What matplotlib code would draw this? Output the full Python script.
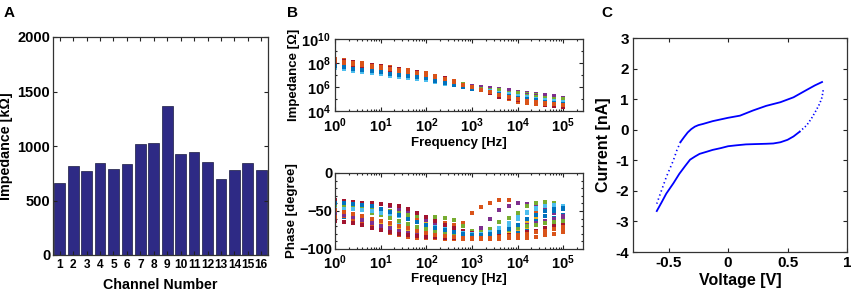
import numpy as np
import matplotlib
matplotlib.use("Agg")
import matplotlib.pyplot as plt
from matplotlib.ticker import FuncFormatter, LogLocator, NullFormatter, MultipleLocator

plt.rcParams['font.family'] = ['Liberation Sans', 'DejaVu Sans']
plt.rcParams['font.weight'] = 'bold'
plt.rcParams['axes.labelweight'] = 'bold'
plt.rcParams['mathtext.fontset'] = 'custom'
plt.rcParams['mathtext.rm'] = 'Liberation Sans:bold'
plt.rcParams['mathtext.bf'] = 'Liberation Sans:bold'
plt.rcParams['mathtext.it'] = 'Liberation Sans:bold'

# ---------------- Panel A data ----------------
channels = list(range(1, 17))
impedance_kohm = [665, 812, 771, 842, 790, 833, 1017, 1032, 1369, 931, 946, 855, 695, 778, 848, 784]

# ---------------- Panel B data ----------------
freq_exp = [0.0, 0.2, 0.4, 0.6, 0.8, 1.0, 1.2, 1.4, 1.6, 1.8, 2.0, 2.2, 2.4,
            2.6, 2.8, 3.0, 3.2, 3.4, 3.6, 3.8, 4.0, 4.2, 4.4, 4.6, 4.8, 5.0]

# log10(|Z| / Ohm) per channel
logz_ch1 = [7.80, 7.69, 7.59, 7.48, 7.37, 7.26, 7.15, 7.05, 6.96, 6.85, 6.75, 6.57, 6.40, 6.24, 6.08, 5.91, 5.76, 5.63, 5.48, 5.33, 5.18, 5.08, 4.99, 4.89, 4.80, 4.70]
logz_ch2 = [8.32, 8.21, 8.09, 7.98, 7.86, 7.75, 7.63, 7.50, 7.39, 7.26, 7.14, 6.95, 6.75, 6.46, 6.18, 5.96, 5.76, 5.49, 5.16, 4.97, 4.78, 4.69, 4.60, 4.51, 4.42, 4.33]
logz_ch3 = [8.00, 7.89, 7.78, 7.67, 7.56, 7.45, 7.34, 7.22, 7.12, 7.01, 6.90, 6.72, 6.54, 6.36, 6.19, 6.01, 5.87, 5.75, 5.61, 5.48, 5.34, 5.24, 5.15, 5.04, 4.95, 4.85]
logz_ch4 = [8.05, 7.94, 7.83, 7.72, 7.61, 7.50, 7.38, 7.27, 7.16, 7.05, 6.94, 6.75, 6.57, 6.42, 6.26, 6.09, 5.99, 5.91, 5.84, 5.73, 5.62, 5.51, 5.42, 5.31, 5.22, 5.11]
logz_ch5 = [7.97, 7.86, 7.75, 7.64, 7.53, 7.42, 7.31, 7.20, 7.10, 6.98, 6.87, 6.69, 6.51, 6.36, 6.21, 6.04, 5.92, 5.83, 5.75, 5.62, 5.50, 5.40, 5.31, 5.20, 5.11, 5.00]
logz_ch6 = [7.58, 7.47, 7.37, 7.26, 7.16, 7.05, 6.95, 6.86, 6.77, 6.68, 6.58, 6.41, 6.25, 6.14, 6.03, 5.88, 5.74, 5.65, 5.57, 5.43, 5.28, 5.18, 5.09, 4.99, 4.90, 4.80]
logz_ch7 = [8.28, 8.17, 8.05, 7.94, 7.83, 7.72, 7.60, 7.47, 7.36, 7.23, 7.11, 6.92, 6.73, 6.45, 6.18, 5.96, 5.76, 5.50, 5.19, 5.00, 4.81, 4.72, 4.63, 4.54, 4.45, 4.36]
logz_ch8 = [7.70, 7.59, 7.49, 7.38, 7.27, 7.16, 7.06, 6.96, 6.87, 6.77, 6.67, 6.50, 6.33, 6.18, 6.03, 5.87, 5.72, 5.58, 5.44, 5.28, 5.12, 5.03, 4.94, 4.84, 4.75, 4.65]
logz_ch9 = [8.22, 8.11, 7.99, 7.88, 7.77, 7.66, 7.54, 7.41, 7.31, 7.18, 7.06, 6.88, 6.68, 6.42, 6.16, 5.95, 5.76, 5.51, 5.22, 5.04, 4.86, 4.76, 4.67, 4.58, 4.49, 4.40]
logz_ch10 = [7.85, 7.74, 7.63, 7.52, 7.42, 7.31, 7.20, 7.09, 7.00, 6.89, 6.78, 6.61, 6.43, 6.25, 6.07, 5.89, 5.72, 5.54, 5.35, 5.18, 5.02, 4.92, 4.83, 4.73, 4.64, 4.55]
logz_ch11 = [7.93, 7.82, 7.71, 7.60, 7.49, 7.38, 7.27, 7.16, 7.06, 6.96, 6.85, 6.67, 6.49, 6.34, 6.19, 6.02, 5.90, 5.80, 5.70, 5.58, 5.45, 5.35, 5.26, 5.15, 5.06, 4.95]
logz_ch12 = [7.90, 7.79, 7.68, 7.57, 7.46, 7.35, 7.24, 7.14, 7.04, 6.93, 6.82, 6.64, 6.47, 6.32, 6.16, 5.99, 5.87, 5.76, 5.66, 5.53, 5.39, 5.29, 5.20, 5.09, 5.00, 4.90]
logz_ch13 = [7.63, 7.52, 7.42, 7.31, 7.21, 7.10, 7.00, 6.91, 6.81, 6.72, 6.62, 6.45, 6.29, 6.16, 6.03, 5.88, 5.74, 5.63, 5.53, 5.38, 5.23, 5.13, 5.04, 4.94, 4.85, 4.75]
logz_ch14 = [8.10, 7.99, 7.87, 7.76, 7.65, 7.54, 7.43, 7.31, 7.20, 7.09, 6.97, 6.79, 6.60, 6.36, 6.13, 5.93, 5.75, 5.52, 5.26, 5.08, 4.91, 4.81, 4.72, 4.63, 4.54, 4.45]
logz_ch15 = [7.75, 7.64, 7.54, 7.43, 7.32, 7.21, 7.11, 7.01, 6.91, 6.81, 6.71, 6.53, 6.37, 6.20, 6.04, 5.87, 5.71, 5.56, 5.40, 5.24, 5.07, 4.98, 4.89, 4.79, 4.70, 4.60]
logz_ch16 = [8.15, 8.04, 7.92, 7.81, 7.70, 7.59, 7.47, 7.35, 7.25, 7.13, 7.01, 6.83, 6.64, 6.40, 6.16, 5.96, 5.78, 5.56, 5.31, 5.14, 4.97, 4.87, 4.78, 4.69, 4.60, 4.50]

# phase (degree) per channel
ph_ch1 = [-48, -52, -56, -60, -64, -68, -72, -75, -78, -80, -81, -82, -83, -83, -83, -83, -82, -81, -80, -78, -76, -73, -69, -64, -59, -55]
ph_ch2 = [-42, -44, -46, -47, -48, -49, -51, -54, -57, -60, -62, -64, -66, -68, -66, -53, -45, -39, -36, -35, -39, -44, -50, -56, -62, -67]
ph_ch3 = [-40, -41, -42, -43, -45, -48, -52, -56, -60, -64, -67, -70, -73, -75, -77, -78, -78, -77, -75, -72, -68, -64, -60, -56, -52, -48]
ph_ch4 = [-37, -38, -38, -39, -40, -41, -43, -47, -52, -57, -62, -66, -70, -74, -77, -79, -72, -60, -49, -43, -40, -41, -44, -48, -52, -56]
ph_ch5 = [-45, -44, -44, -45, -47, -48, -50, -53, -55, -57, -58, -58, -59, -62, -70, -76, -78, -74, -64, -59, -52, -44, -40, -38, -39, -44]
ph_ch6 = [-55, -57, -59, -61, -63, -65, -67, -69, -71, -73, -75, -77, -79, -80, -81, -81, -80, -78, -74, -68, -60, -53, -47, -43, -42, -45]
ph_ch7 = [-36, -37, -38, -39, -40, -41, -42, -44, -48, -53, -58, -63, -68, -72, -76, -79, -81, -82, -82, -81, -80, -78, -76, -73, -70, -66]
ph_ch8 = [-60, -58, -58, -61, -66, -71, -75, -79, -82, -84, -85, -85, -85, -85, -85, -85, -84, -83, -82, -80, -76, -70, -63, -56, -50, -47]
ph_ch9 = [-58, -56, -60, -66, -70, -75, -79, -82, -84, -85, -86, -86, -87, -87, -87, -87, -87, -87, -87, -86, -86, -85, -84, -82, -80, -78]
ph_ch10 = [-50, -53, -56, -59, -62, -65, -68, -71, -74, -77, -79, -81, -82, -83, -83, -83, -82, -81, -79, -77, -74, -71, -68, -65, -62, -60]
ph_ch11 = [-52, -55, -58, -62, -66, -70, -73, -76, -79, -81, -83, -84, -84, -84, -84, -83, -82, -80, -78, -75, -72, -69, -66, -63, -61, -60]
ph_ch12 = [-42, -44, -46, -49, -52, -55, -59, -63, -67, -71, -74, -77, -79, -80, -81, -81, -80, -79, -77, -75, -72, -70, -68, -66, -64, -63]
ph_ch13 = [-47, -47, -48, -49, -50, -52, -54, -57, -61, -65, -68, -71, -74, -77, -79, -80, -80, -78, -73, -66, -58, -51, -46, -43, -42, -43]
ph_ch14 = [-63, -64, -66, -69, -72, -75, -78, -80, -82, -83, -84, -84, -85, -85, -85, -85, -85, -84, -83, -82, -81, -79, -77, -75, -73, -72]
ph_ch15 = [-40, -40, -41, -42, -44, -47, -51, -55, -60, -64, -68, -72, -75, -78, -80, -81, -81, -80, -78, -74, -68, -61, -55, -50, -47, -46]
ph_ch16 = [-49, -51, -54, -57, -60, -63, -66, -70, -73, -76, -79, -81, -83, -84, -85, -85, -85, -85, -84, -83, -82, -80, -78, -76, -74, -72]

logz_all = [logz_ch1, logz_ch2, logz_ch3, logz_ch4, logz_ch5, logz_ch6, logz_ch7, logz_ch8,
            logz_ch9, logz_ch10, logz_ch11, logz_ch12, logz_ch13, logz_ch14, logz_ch15, logz_ch16]
ph_all = [ph_ch1, ph_ch2, ph_ch3, ph_ch4, ph_ch5, ph_ch6, ph_ch7, ph_ch8,
          ph_ch9, ph_ch10, ph_ch11, ph_ch12, ph_ch13, ph_ch14, ph_ch15, ph_ch16]

# ---------------- Panel C data ----------------
lower_dense_v = [-0.60, -0.56, -0.52, -0.46, -0.41, -0.36, -0.32, -0.28, -0.24, -0.18, -0.13, -0.06,
                 0.00, 0.07, 0.15, 0.23, 0.32, 0.38, 0.44, 0.50, 0.55, 0.60]
lower_dense_i = [-2.66, -2.38, -2.09, -1.75, -1.44, -1.18, -0.98, -0.88, -0.79, -0.72, -0.66, -0.60,
                 -0.54, -0.51, -0.48, -0.47, -0.46, -0.45, -0.41, -0.33, -0.22, -0.07]
lower_steep_v = [0.60, 0.66, 0.70, 0.74, 0.77, 0.79, 0.80]
lower_steep_i = [-0.07, 0.14, 0.36, 0.63, 0.85, 1.06, 1.30]
upper_dense_v = [0.79, 0.73, 0.66, 0.55, 0.44, 0.32, 0.21, 0.10, 0.00, -0.13, -0.21, -0.25, -0.28,
                 -0.31, -0.34, -0.37, -0.40]
upper_dense_i = [1.56, 1.45, 1.30, 1.06, 0.90, 0.78, 0.63, 0.46, 0.39, 0.28, 0.19, 0.15, 0.10,
                 0.02, -0.09, -0.24, -0.40]
upper_steep_v = [-0.40, -0.43, -0.46, -0.52, -0.58, -0.60]
upper_steep_i = [-0.40, -0.66, -1.00, -1.55, -2.20, -2.42]

matlab_colors = ['#0072BD', '#D95319', '#EDB120', '#7E2F8E', '#77AC30', '#4DBEEE', '#A2142F']

W, H = 851, 297
fig = plt.figure(figsize=(W / 100, H / 100), dpi=100)

def px_axes(left, top, right, bottom):
    return fig.add_axes([left / W, 1 - bottom / H, (right - left) / W, (bottom - top) / H])

def style(ax, fs):
    ax.tick_params(which='both', direction='in', top=True, right=True, labelsize=fs, pad=2,
                   width=0.8, colors='#222222', labelcolor='black')
    ax.tick_params(which='major', length=3)
    ax.tick_params(which='minor', length=1.6)
    for s in ax.spines.values():
        s.set_linewidth(0.9)
        s.set_color('#333333')
    for lab in ax.get_xticklabels() + ax.get_yticklabels():
        lab.set_fontweight('bold')

# ---- A ----
axA = px_axes(53, 37, 268, 255)
axA.bar(channels, impedance_kohm, width=0.8, color='#2e2a85', edgecolor='#1a1a40', linewidth=0.5)
axA.set_xlim(0.5, 16.5)
axA.set_ylim(0, 2000)
axA.set_xticks(channels)
axA.set_yticks([0, 500, 1000, 1500, 2000])
axA.set_xlabel('Channel Number', fontsize=10.3, labelpad=5)
axA.set_ylabel('Impedance [k\u03A9]', fontsize=10.3, labelpad=3)
style(axA, 10.5)
axA.tick_params(axis='x', pad=3, labelsize=8.6)

def pow_fmt(x, pos):
    e = int(round(np.log10(x)))
    return r'$\mathbf{10^{%d}}$' % e

freqs = [10 ** e for e in freq_exp]
MS = 2.5

# ---- B top ----
axB1 = px_axes(335, 39, 583, 111)
for k in range(16):
    axB1.plot(freqs, [10 ** z for z in logz_all[k]], linestyle='none', marker='s', markersize=MS,
              markeredgewidth=0, color=matlab_colors[k % 7])
axB1.set_xscale('log')
axB1.set_yscale('log')
axB1.set_xlim(1, 10 ** 5.43)
axB1.set_ylim(1e4, 1e10)
axB1.set_xticks([1, 10, 100, 1e3, 1e4, 1e5])
axB1.set_yticks([1e4, 1e6, 1e8, 1e10])
axB1.xaxis.set_major_formatter(FuncFormatter(pow_fmt))
axB1.yaxis.set_major_formatter(FuncFormatter(pow_fmt))
axB1.xaxis.set_minor_locator(LogLocator(base=10, subs=np.arange(2, 10), numticks=20))
axB1.yaxis.set_minor_locator(LogLocator(base=10, subs=[1.0], numticks=20))
axB1.xaxis.set_minor_formatter(NullFormatter())
axB1.yaxis.set_minor_formatter(NullFormatter())
axB1.set_xlabel('Frequency [Hz]', fontsize=9.5, labelpad=1)
axB1.set_ylabel('Impedance [\u03A9]', fontsize=9.5, labelpad=1)
style(axB1, 10.5)
axB1.tick_params(axis='x', pad=4)
axB1.tick_params(axis='y', pad=3)

# ---- B bottom ----
axB2 = px_axes(335, 173, 583, 249)
for k in range(16):
    axB2.plot(freqs, ph_all[k], linestyle='none', marker='s', markersize=MS,
              markeredgewidth=0, color=matlab_colors[k % 7])
axB2.set_xscale('log')
axB2.set_xlim(1, 10 ** 5.43)
axB2.set_ylim(-100, 0)
axB2.set_xticks([1, 10, 100, 1e3, 1e4, 1e5])
axB2.set_yticks([-100, -50, 0])
axB2.xaxis.set_major_formatter(FuncFormatter(pow_fmt))
axB2.xaxis.set_minor_locator(LogLocator(base=10, subs=np.arange(2, 10), numticks=20))
axB2.xaxis.set_minor_formatter(NullFormatter())
axB2.yaxis.set_minor_locator(MultipleLocator(10))
axB2.set_xlabel('Frequency [Hz]', fontsize=9.5, labelpad=1)
axB2.set_ylabel('Phase [degree]', fontsize=9.5, labelpad=1)
style(axB2, 10.5)
axB2.tick_params(axis='x', pad=3)

# ---- C ----
axC = px_axes(633, 38, 847, 252)
axC.plot(lower_dense_v, lower_dense_i, color='#0000ff', lw=1.3)
axC.plot(lower_steep_v, lower_steep_i, color='#0000ff', lw=1.2, linestyle=(0, (0.8, 1.4)))
axC.plot(upper_dense_v, upper_dense_i, color='#0000ff', lw=1.3)
axC.plot(upper_steep_v, upper_steep_i, color='#0000ff', lw=1.2, linestyle=(0, (0.8, 1.8)))
axC.set_xlim(-0.8, 1.0)
axC.set_ylim(-4, 3)
axC.set_xticks([-0.5, 0, 0.5, 1])
axC.set_xticklabels(['-0.5', '0', '0.5', '1'])
axC.set_yticks([-4, -3, -2, -1, 0, 1, 2, 3])
axC.set_yticklabels(['-4', '-3', '-2', '-1', '0', '1', '2', '3'])
axC.set_xlabel('Voltage [V]', fontsize=11.5, labelpad=2)
axC.set_ylabel('Current [nA]', fontsize=11.5, labelpad=3)
style(axC, 11)
axC.tick_params(axis='x', pad=3)
axC.tick_params(axis='y', pad=3)

# panel letters
fig.text(4 / W, 1 - 13 / H, 'A', fontsize=11, fontweight='bold', va='center', ha='left')
fig.text(287 / W, 1 - 13 / H, 'B', fontsize=11, fontweight='bold', va='center', ha='left')
fig.text(601 / W, 1 - 13 / H, 'C', fontsize=11, fontweight='bold', va='center', ha='left')

fig.savefig('out.png', dpi=100)
